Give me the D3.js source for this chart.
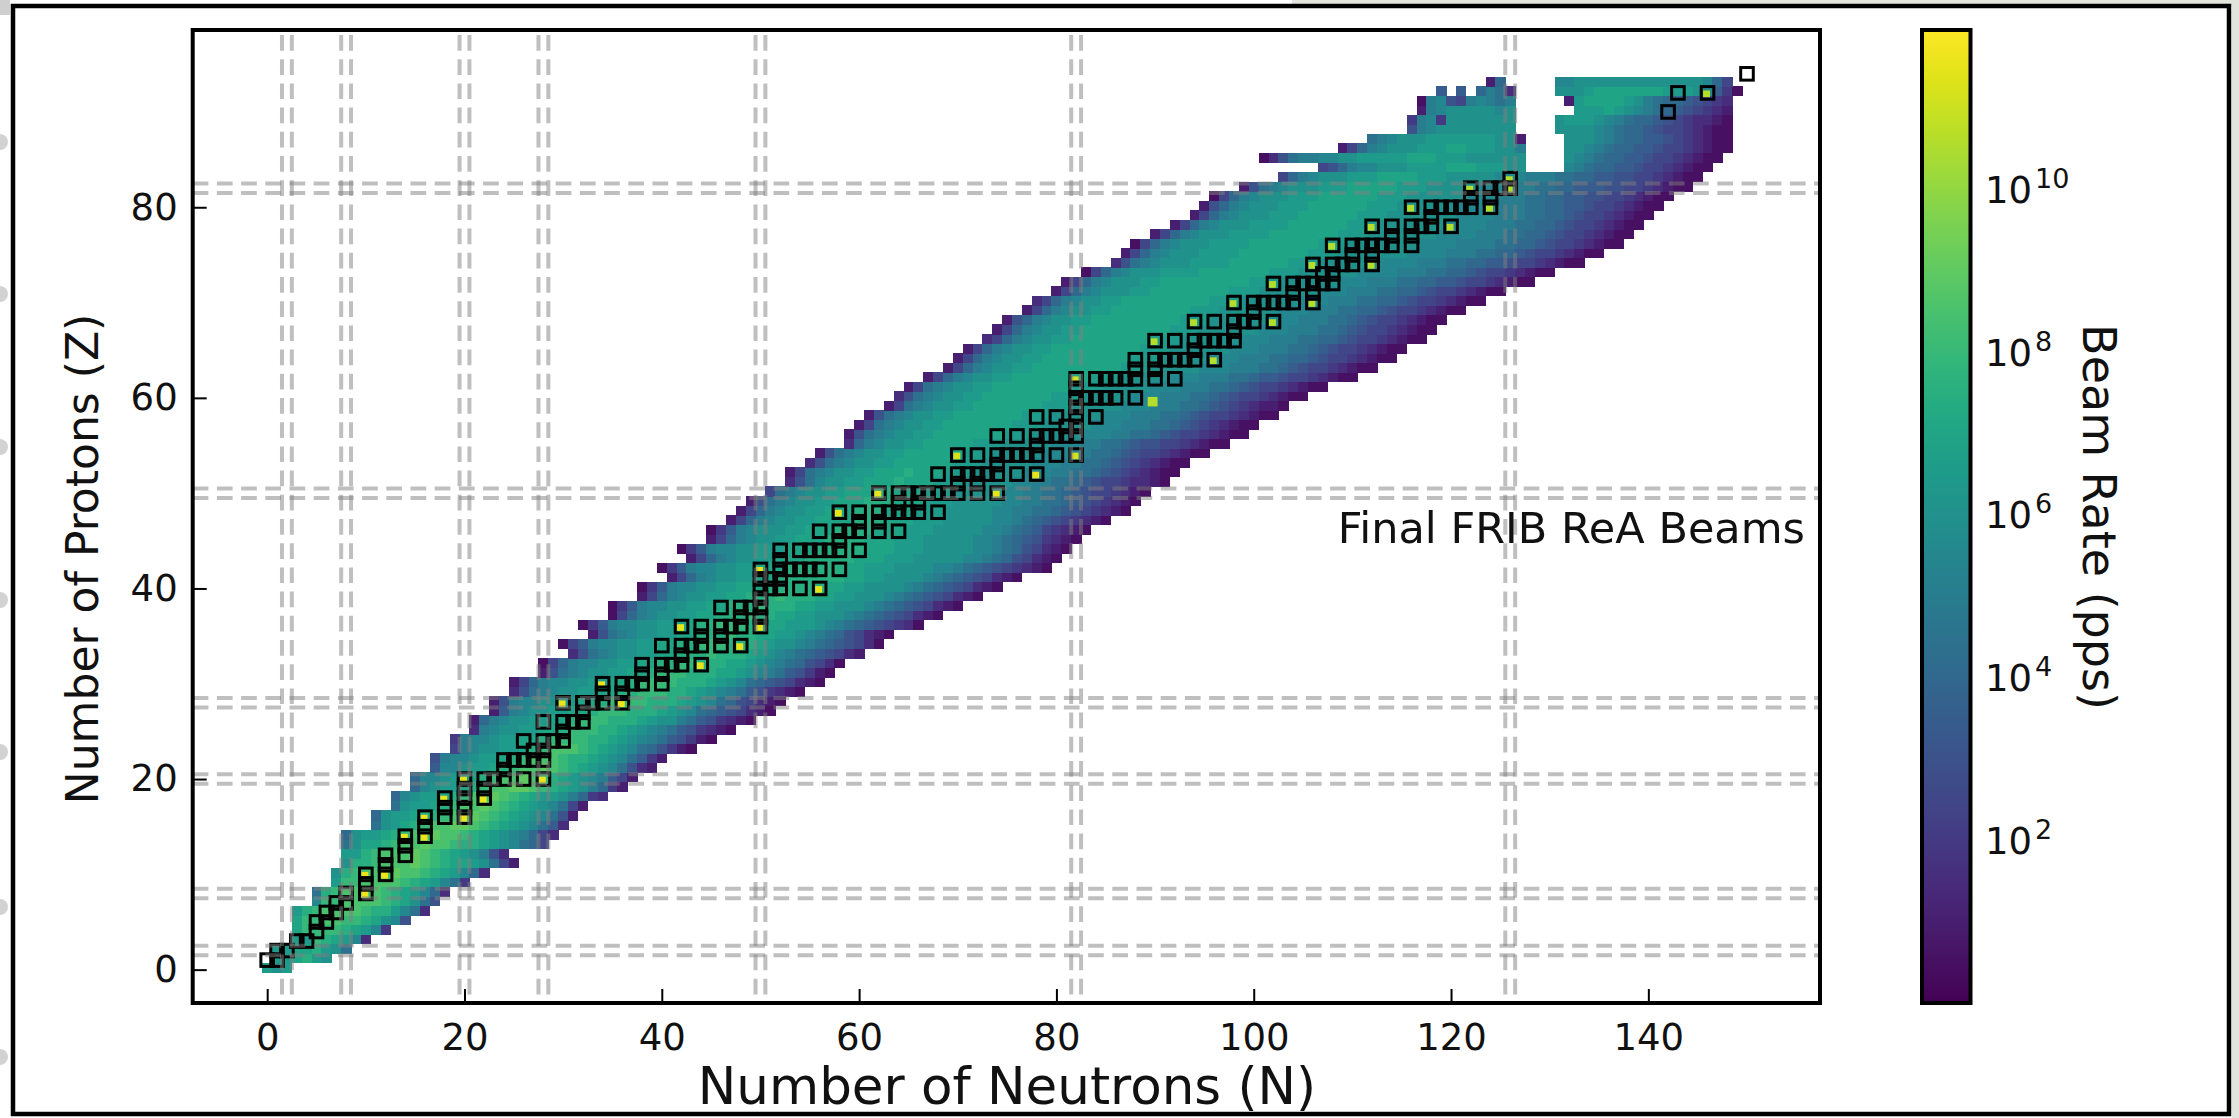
<!DOCTYPE html>
<html>
<head>
<meta charset="utf-8">
<script src="https://cdnjs.cloudflare.com/ajax/libs/d3/7.8.5/d3.min.js"></script>
<style>
  html, body { margin: 0; padding: 0; background: #fff; overflow: hidden; }
  text { font-family: "DejaVu Sans", sans-serif; fill: #111; }
</style>
</head>
<body>
<div id="chart"></div>
<script>
// First N of each heat row, Z = 1..94
const rowStartN = [0,1,1,3,3,3,3,5,5,7,7,8,8,8,8,11,11,13,13,15,15,17,17,19,19,21,21,23,23,25,25,28,28,31,30,33,32,35,35,38,38,41,40,43,42,45,45,47,48,49,51,53,53,55,56,59,59,60,61,63,64,65,67,69,70,71,73,74,75,77,78,80,81,83,86,87,88,90,92,94,95,96,99,103,107,101,109,112,116,116,117,117,119,124];

// Heat rows, one char per cell from rowStartN on: half decades of beam rate in base 36, "." = no beam
const rowLevels = [
  "dcd","ddefdc","ddeefdc9","ddgfedb3","eggggfedb4","egghhggfecb6","dfghhhhgffdb93","bgghhhhgfec96","9fghhhhgfedb83","dgghhhhgfedb94",
  "cfghhhihhgfedb83","cffghhhihgfeedc952","ddfghhhihgfedca63","9ceefghhihhgffedcb985","8cddefghhihhgfedcba853","9cdefghhiihgfedcb973","8cddeffghhihgfedcb962","9cddefghhihgfedcb952","8bcddefghhihgfeddca843","8bcddefghhiihgfedca842",
  "8bbcddefghhihgfedcba752","7bbcddefghhihgfedcb9632","6abbcddefghhhgffedcb9742","5abccddefghhhgfedcb986421","4abbcddeefggggffedcba976421","3abccddeefgggffedcba9764321","28abccddeefgggfffedcca9764321","27abccddeefgggfffedcb98765321","26abbccddeefggggfffedcb9865321","369abccddeeffgggffedcba9764321",
  "258abbccddeefggggfffedcb98765321","269abccddeefgggfffeedcba976421","158abbccddeeffggfffeedcba986531","369abccddeefffgfffedcba9876532","157abbccddeeffgggfffedccba9876531","269abccddeefffgffeeddcba9865321","147abbccddeeffgggffeedddcba98765431","158abccddeefffgffeeddcccba98765321","147abbccddeefffgfffeeddcccba98765321","258abccddeefffgfffeeddcccba98765321",
  "147abbccddeeeffffffeeddccccba98765321","258abccddeefffffffeeddccccba98765321","147abbccddeeeffffffeedddccccbba987654321","258abccddeeefffffeeedddcccccbba9865321","147abbccdddeeefffffeeedddcccccbba9865321","258abccddeeeffffeeedddcccccbba98764321","147abcccddeeeffffeeedddcccccbba98754321","258abccddeeeefffeeedddcccccbba987654321","258abccddeeefffeeedddcccccbbaa9987654321","269abccddeeefffeeedddcccccbbaa9987654321",
  "59abccddeeeffeeedddcccccbbaa99876554321","369bccddeeefeeedddcccccbbaa998765543321","259abccddeeefeeedddcccccbbbaa99876543211","369abccddeeeeeedddcccccbbbaa99876543211","269abccddeeeeeedddcccccbbbaa998765543211","38abccddeeeeedddcccccbbbaa9987665543211","269abccddeeeeeeedddcccccbbbaa998765543211","259abccddeeeeeeedddcccccbbbaaa99876543211","269abccddeeeeeeedddcccccbbbaaa998765543211","259abccddeeeeeeedddcccccbbbaaa99876543221",
  "369abccddeeeeeeedddcccccbbbaaa998765543211","259abccddeeeeeeeedddcccccbbbaaa998765543211","258abccddeeeeeeeedddcccccbbbaaa9987765543211","258abccddeeeeeeeeedddcccccbbbaaa998765543211","258abccddeeeeeeeeedddcccccbbbaaa9988765543211","258abccddeeeeeeeeedddccccccbbbaaa998765543211","358abccddeeeeeeeedddccccccbbbaaa9988765543211","258abccddeeeeeeeeedddccccccbbbaaa998765543211","268abccddeeeeeeeeedddccccccbbbaaa998765543211","258abccddeeeeeeeedddccccccbbbaaa9988765543211",
  "358abccddeeeeeeeeedddccccccbbbaaa9988765543211","258abcccddeeeeeeeedddccccccbbbaaa9988765543211","258abcccddeeeeeeeeedddccccccbbbaaa99887765543211","158abcccddddeeeeeeedddccccccbbbbaaa9988765543211","369abcccddddeeeeeedddccccccbbbbaaa99887765543211","258abcccddddeeeeeeedddcccccccbbbbaaa9988765543211","158abcccddddeeeeeeedddcccccccbbbbaaaa9988765543211","258abcccddddeeeeeeedddcccccccbbbbaaa9988765543211","258abcccddddeeeeeedddcccccccbbbbaaa9988765543211","258abcccdddeeeeeedddcccccccbbbbaaa9988765543211",
  "268abcccdddeeeeeedddccccccbbbbaaa99887765543211","158abcccdddeeeeeedddccccccbbbaaa998877665543211","269abcccdddeeeeedddcccccbbbaaa9988777665543211","58abcccdddeeeedddcccccbbbaaa998877665543211","568abbcccddddeeedddcc....ba9887765543211","1369aabbccdddddeeedddcccccc....cba9887765543211","258abcccdddeedddcca....ccba9887765543211","9abcccdddddddcc2....cccba988776543211","6abcccccccc....ccccba988765543211","4ab4ccccccc....cdddcba98876543321",
  "2abcccccbc......dddedcba98765432","1ab65aba9a.....2deeeedca98876543","7.7.8a93....cccdeeeeeeedddcb741","28.....bbcccccccccccccb85"
];

// Cells with a stable isotope, log10 of the rate
const stableN = [10,10,12,14,16,16,18,20,20,22,28,30,34,36,42,44,48,50,50,56,58,62,74,78,70,82,82,90,90,94,98,96,102,102,106,106,108,112,112,120,116,124,122,126,126,146];
const stableZ = [8,10,10,14,14,16,18,16,20,18,20,28,30,28,36,32,34,36,42,40,48,50,50,52,54,54,62,60,66,68,70,64,68,72,70,74,76,74,78,78,80,80,82,82,83,92];
const stableLog = [11.6,11.6,11.6,11.6,11.6,11.6,11.6,11.6,11.6,11.6,11.6,11.6,11.6,11.6,11.5,11.5,11.5,11.5,11.5,11.5,11.5,11.5,11.5,11.5,11.2,11.2,11.2,10.6,10.6,10.6,10.6,10.6,10.6,10.6,10.6,10.6,10.6,10.6,10.6,10.6,10.6,10.6,10.6,10.6,10.6,10.6];

// ReA beam boxes: one Z with its list of N
const beamZ = [1,2,3,4,5,6,7,8,9,10,11,12,13,14,15,16,17,18,19,20,21,22,23,24,25,26,27,28,29,30,31,32,33,34,35,36,37,38,39,40,41,42,43,44,45,46,47,48,49,50,51,52,53,54,55,56,57,58,59,60,61,62,63,64,65,66,67,68,69,70,71,72,73,74,75,76,77,78,79,80,81,82,83,90,92,94];
const beamN = [[0,1],[1,2],[3,4],[5],[5,6],[6,7],[7,8],[8,10],[10],[10,12],[12],[12,14],[14],[14,16],[16],[16,18,20],[18,20],[18,20,22],[20,22],[20,22,23,24,26,28],[24],[24,25,26,27,28],[27,28],[26,28,29,30],[30],[28,30,31,32],[32],[30,32,33,34,36],[34,36],[34,36,37,38,40],[38,40],[38,40,41,42,44],[42],[40,42,43,44,46,48],[44,46],[42,44,46,47,48,50],[48,50],[46,48,49,50],[50],[50,51,52,54,56],[50,51,52],[50,52,53,54,55,56,58],[52],[52,54,55,56,57,58,60],[58],[56,58,59,60,62,64],[60,62],[58,60,62,63,64,65,66,68],[64,66],[62,64,65,66,67,68,69,70,72,74],[70,72],[68,70,71,72,73,74,76,78],[74],[70,72,74,75,76,77,78,80,82],[78],[74,76,78,79,80,81,82],[81,82],[78,80,82,84],[82],[82,83,84,85,86,88],[82],[82,84,85,86,87,88,90,92],[88,90],[88,90,91,92,93,94,96],[94],[90,92,94,95,96,97,98],[98],[94,96,98,99,100,102],[100],[98,100,101,102,103,104,106],[104,106],[102,104,105,106,107,108],[107,108],[106,108,109,110,112],[110,112],[108,110,111,112,113,114,116],[114,116],[112,114,116,117,118,120],[118],[116,118,119,120,121,122,124],[122,124],[122,124,125,126],[126],[142],[143,146],[150]];

// Shell closures get a pair of dashed lines either side
const magicLines = [1.5,2.5,7.5,8.5,19.5,20.5,27.5,28.5,49.5,50.5,81.5,82.5,125.5,126.5];
const xTicks = [0,20,40,60,80,100,120,140];
const yTicks = [0,20,40,60,80];
const cbarExps = [2,4,6,8,10];

const width = 2239, height = 1118;
const plot = { left: 192.7, right: 1820, top: 30, bottom: 1003 };
const cbar = { left: 1922, right: 1970.5, top: 30, bottom: 1003 };

const svg = d3.select("#chart").append("svg")
  .attr("width", width)
  .attr("height", height)
  .style("display", "block");

// Page behind the slide frame
svg.append("rect").attr("x", 1292).attr("y", 0).attr("width", 947).attr("height", 6).attr("fill", "#e4e5de");
svg.append("rect").attr("x", 2232).attr("y", 0).attr("width", 7).attr("height", height).attr("fill", "#e1e3dd");
svg.append("rect").attr("x", 0).attr("y", 0).attr("width", 10).attr("height", 15).attr("fill", "#cfcfcf");
svg.selectAll(".dot").data([142, 294, 447, 600, 752, 907, 1057]).enter().append("circle")
  .attr("cx", 0).attr("cy", d => d).attr("r", 8).attr("fill", "#d2d2d2");

const sheet = svg.append("g");
sheet.append("rect")
  .attr("x", 13).attr("y", 6).attr("width", 2216).attr("height", 1108)
  .attr("fill", "#fff");

const x = d3.scaleLinear().domain([-7.55, 157.4]).range([plot.left, plot.right]);
const y = d3.scaleLinear().domain([-3.5, 98.6]).range([plot.bottom, plot.top]);
const color = d3.scaleSequential(d3.interpolateViridis).domain([0, 11.95]);

// Heat cells
const cells = [];
rowLevels.forEach((row, i) => {
  row.split("").forEach((ch, j) => {
    if (ch !== ".") cells.push({ n: rowStartN[i] + j, z: i + 1, log: parseInt(ch, 36) / 2 });
  });
});

const cellW = x(1) - x(0), cellH = y(0) - y(1);
sheet.append("g").selectAll("rect").data(cells).enter().append("rect")
  .attr("x", d => x(d.n - 0.5))
  .attr("y", d => y(d.z - 0.3))
  .attr("width", cellW + 0.5)
  .attr("height", cellH + 0.5)
  .attr("fill", d => color(d.log))
  .attr("shape-rendering", "crispEdges");

// Beam boxes
const boxes = [];
beamZ.forEach((z, i) => beamN[i].forEach(n => boxes.push({ n, z })));
const boxed = new Set(boxes.map(d => d.n + "," + d.z));

// Stable isotopes sit on top of the heat rows, smaller where a box hides the rim
const hasBox = (d, i) => boxed.has(d + "," + stableZ[i]);
sheet.append("g").selectAll("rect").data(stableN).enter().append("rect")
  .attr("x", (d, i) => hasBox(d, i) ? x(d - 0.45) : x(d - 0.75))
  .attr("y", (d, i) => hasBox(d, i) ? y(stableZ[i] + 0.25) : y(stableZ[i] + 0.1))
  .attr("width", (d, i) => hasBox(d, i) ? cellW * 0.7 : cellW)
  .attr("height", (d, i) => hasBox(d, i) ? cellH * 0.7 : cellH)
  .attr("fill", (d, i) => color(stableLog[i]));

const boxSize = 12.6;
sheet.append("g").selectAll("rect").data(boxes).enter().append("rect")
  .attr("x", d => x(d.n) - boxSize / 2)
  .attr("y", d => y(d.z) - boxSize / 2)
  .attr("width", boxSize)
  .attr("height", boxSize)
  .attr("fill", "none")
  .attr("stroke", "#000")
  .attr("stroke-width", 3);

// Magic number lines
const lines = sheet.append("g")
  .attr("stroke", "gray")
  .attr("stroke-opacity", 0.5)
  .attr("stroke-width", 4);
lines.selectAll(".v").data(magicLines).enter().append("line")
  .attr("x1", d => x(d)).attr("x2", d => x(d))
  .attr("y1", plot.top).attr("y2", plot.bottom)
  .attr("stroke-dasharray", "15.7 8.5")
  .attr("stroke-dashoffset", 19.2);
lines.selectAll(".h").data(magicLines).enter().append("line")
  .attr("x1", plot.left).attr("x2", plot.right)
  .attr("y1", d => y(d)).attr("y2", d => y(d))
  .attr("stroke-dasharray", "15.7 8.5");

// Axes
const xAxis = sheet.append("g")
  .attr("transform", `translate(0,${plot.bottom})`)
  .call(d3.axisBottom(x).tickValues(xTicks).tickFormat(d3.format("d")).tickSizeInner(-14).tickSizeOuter(0).tickPadding(21));
const yAxis = sheet.append("g")
  .attr("transform", `translate(${plot.left},0)`)
  .call(d3.axisLeft(y).tickValues(yTicks).tickFormat(d3.format("d")).tickSizeInner(-14).tickSizeOuter(0).tickPadding(15));
[xAxis, yAxis].forEach(a => {
  a.select(".domain").remove();
  a.selectAll("line").attr("stroke", "#000").attr("stroke-width", 2);
  a.selectAll("text").attr("font-size", 37).attr("font-family", "DejaVu Sans").attr("fill", "#111");
});

sheet.append("rect")
  .attr("x", plot.left).attr("y", plot.top)
  .attr("width", plot.right - plot.left).attr("height", plot.bottom - plot.top)
  .attr("fill", "none").attr("stroke", "#000").attr("stroke-width", 4);

sheet.append("text")
  .attr("x", 1007).attr("y", 1104)
  .attr("text-anchor", "middle")
  .attr("font-size", 51.5)
  .text("Number of Neutrons (N)");
sheet.append("text")
  .attr("transform", "translate(98,559) rotate(-90)")
  .attr("text-anchor", "middle")
  .attr("font-size", 44)
  .text("Number of Protons (Z)");
sheet.append("text")
  .attr("x", 1805).attr("y", 543)
  .attr("text-anchor", "end")
  .attr("font-size", 43)
  .text("Final FRIB ReA Beams");

// Colorbar
const defs = svg.append("defs");
const grad = defs.append("linearGradient").attr("id", "viridis-bar")
  .attr("x1", 0).attr("y1", 1).attr("x2", 0).attr("y2", 0);
d3.range(0, 1.001, 0.05).forEach(t => {
  grad.append("stop").attr("offset", t).attr("stop-color", d3.interpolateViridis(t));
});
sheet.append("rect")
  .attr("x", cbar.left).attr("y", cbar.top)
  .attr("width", cbar.right - cbar.left).attr("height", cbar.bottom - cbar.top)
  .attr("fill", "url(#viridis-bar)")
  .attr("stroke", "#000").attr("stroke-width", 4);

const cbarY = d3.scaleLinear().domain([0, 11.95]).range([cbar.bottom, cbar.top]);
const cbarLabels = sheet.append("g").selectAll("g").data(cbarExps).enter().append("g")
  .attr("transform", d => `translate(1985,${cbarY(d) + 14})`);
cbarLabels.append("text").attr("font-size", 37).text("10");
cbarLabels.append("text").attr("x", 50).attr("y", -15).attr("font-size", 27).text(d => d);

sheet.append("text")
  .attr("transform", "translate(2083,517) rotate(90)")
  .attr("text-anchor", "middle")
  .attr("font-size", 46)
  .text("Beam Rate (pps)");

sheet.append("rect")
  .attr("x", 13).attr("y", 6).attr("width", 2216).attr("height", 1108)
  .attr("fill", "none").attr("stroke", "#000").attr("stroke-width", 4.5);

// The source is a slightly soft screenshot
svg.style("filter", "blur(0.7px)");
</script>
</body>
</html>
